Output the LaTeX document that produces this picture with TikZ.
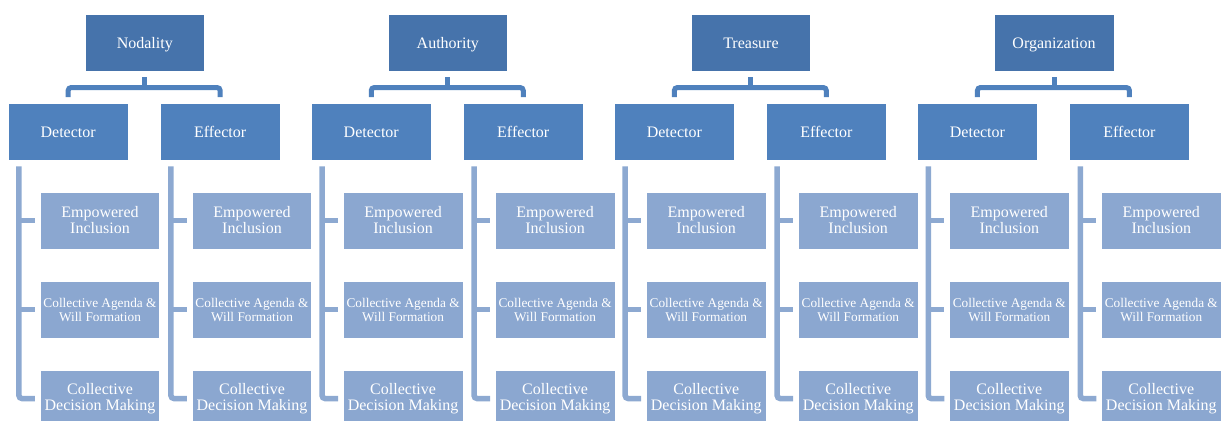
\documentclass[tikz,border=0pt]{standalone}
\usepackage{fontspec}
\setmainfont{Liberation Serif}
\definecolor{topc}{HTML}{4673AB}
\definecolor{midc}{HTML}{4F81BD}
\definecolor{lowc}{HTML}{8BA7D0}
\definecolor{lbrc}{HTML}{8DA9D1}
\tikzset{
  box/.style={draw=white, line width=0.6pt, minimum width=119.5pt, minimum height=57pt,
    inner sep=0pt, text=white, align=center, font=\fontsize{16}{16}\selectfont},
  onebox/.style={box, text height=11pt, text depth=0pt},
  topbox/.style={onebox, fill=topc},
  midbox/.style={onebox, fill=midc},
  lowbox/.style={box, fill=lowc},
  smalltext/.style={font=\fontsize{13.3}{14}\selectfont},
  tbr/.style={draw=midc, line width=5pt, rounded corners=3pt},
  cbr/.style={draw=lbrc, line width=5.5pt, rounded corners=3pt}
}
\begin{document}
\begin{tikzpicture}[x=1pt,y=-1pt]
\clip (0,0) rectangle (1225,420);
\fill[white] (0,0) rectangle (1225,420);
\foreach \n [count=\i from 0] in {Nodality,Authority,Treasure,Organization}{
  \pgfmathsetmacro\o{303.1*\i}
  \node[topbox] (t\i) at (144.75+\o,42.75) {\n};
  \foreach \k/\lab/\dx in {d/Detector/0,e/Effector/152}{
    \node[midbox] (\k\i) at (68.15+\dx+\o,131.5) {\lab};
    \node[lowbox] (\k\i a) at (100+\dx+\o,220.5) {Empowered\\Inclusion};
    \node[lowbox,smalltext] (\k\i b) at (100+\dx+\o,309.5) {Collective Agenda \&\\Will Formation};
    \node[lowbox] (\k\i c) at (100+\dx+\o,398.5) {Collective\\Decision Making};
    \coordinate (\k\i x) at ([xshift=-21pt]\k\i a.west);
    \coordinate (\k\i s) at ([yshift=-6pt]\k\i.south);
    \draw[cbr] (\k\i x |- \k\i s) |- ([xshift=-5pt]\k\i c.west);
    \draw[cbr] (\k\i x |- \k\i a.west) -- ([xshift=-5pt]\k\i a.west);
    \draw[cbr] (\k\i x |- \k\i b.west) -- ([xshift=-5pt]\k\i b.west);
  }
  \coordinate (t\i m) at ([yshift=-16pt]t\i.south);
  \draw[tbr] ([yshift=-5.5pt]t\i.south) -- (t\i m);
  \draw[tbr] ([yshift=5.5pt]d\i.north) |- (t\i m) -| ([yshift=5.5pt]e\i.north);
}
\end{tikzpicture}
\end{document}
